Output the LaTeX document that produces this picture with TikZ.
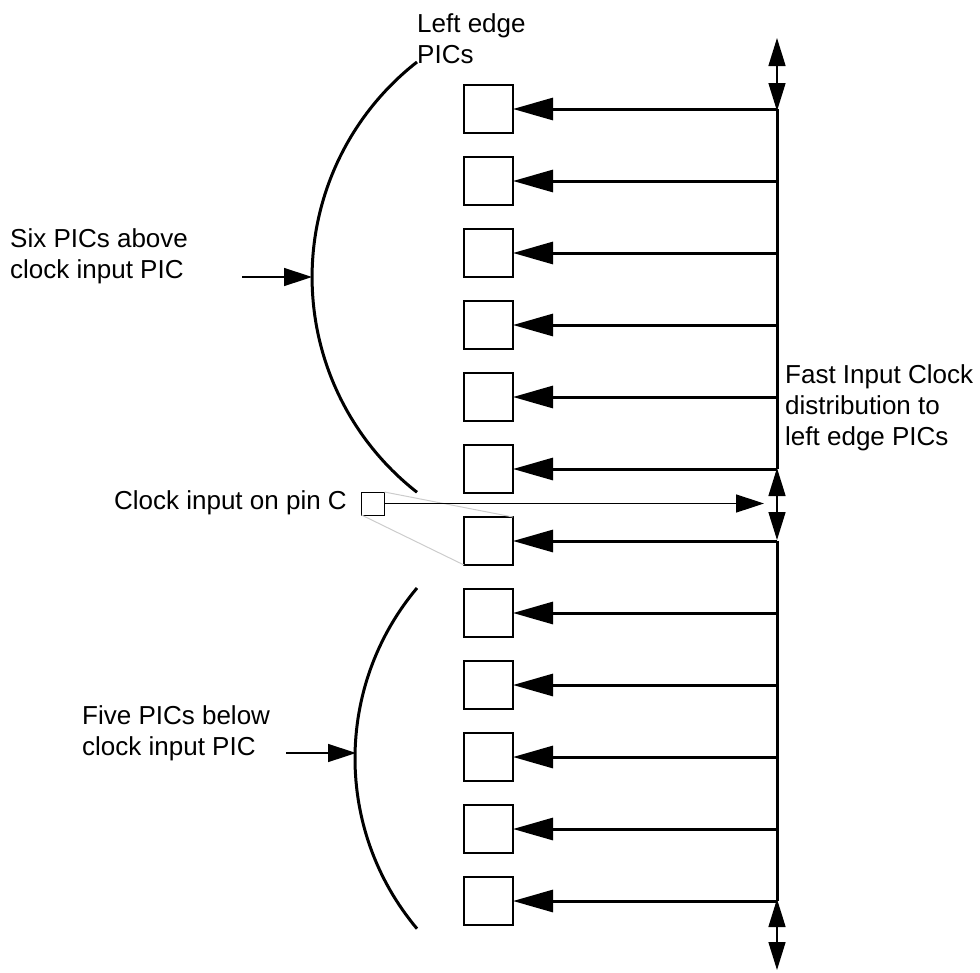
\documentclass[tikz,border=0pt]{standalone}
\usepackage{fontspec}
\setmainfont{Liberation Sans}
\usetikzlibrary{arrows.meta, positioning}

\begin{document}
\begin{tikzpicture}[x=1pt, y=-1pt, font=\fontsize{26}{31}\selectfont,
    picbox/.style={draw, rectangle, line width=1.5pt, minimum width=49pt, minimum height=48pt, inner sep=0pt, outer sep=0pt},
    txt/.style={align=left, inner sep=0pt},
    wire/.style={line width=3pt},
    feed/.style={line width=3pt, -{Triangle[length=40pt, width=22pt]}},
    pointer/.style={line width=1.5pt, -{Triangle[length=28pt, width=18pt]}},
    both/.style={line width=1.5pt, {Triangle[length=28pt, width=17pt]}-{Triangle[length=28pt, width=17pt]}},
    arcline/.style={line width=3pt}]
    \useasboundingbox (0,0) rectangle (980,972);

    \node[picbox] (pic1) at (488.5,109) {};
    \node[picbox] (pic2) at (488.5,181) {};
    \node[picbox] (pic3) at (488.5,253) {};
    \node[picbox] (pic4) at (488.5,325) {};
    \node[picbox] (pic5) at (488.5,397) {};
    \node[picbox] (pic6) at (488.5,469) {};
    \node[picbox] (pic7) at (488.5,541) {};
    \node[picbox] (pic8) at (488.5,613) {};
    \node[picbox] (pic9) at (488.5,685) {};
    \node[picbox] (pic10) at (488.5,757) {};
    \node[picbox] (pic11) at (488.5,829) {};
    \node[picbox] (pic12) at (488.5,901) {};

    \node[draw, rectangle, line width=1pt, minimum size=23pt, inner sep=0pt, outer sep=0pt] (clkin) at (373,503.5) {};

    \node[txt, anchor=base west] (edgetxt) at (417,63) {Left edge\\PICs};
    \node[txt, anchor=base west] (abovetxt) at (10,278) {Six PICs above\\clock input PIC};
    \node[txt, anchor=base west] (fasttxt) at (785,445) {Fast Input Clock\\distribution to\\left edge PICs};
    \node[txt, anchor=base east] (clktxt) at (347,509) {Clock input on pin C};
    \node[txt, anchor=base west] (belowtxt) at (82,755) {Five PICs below\\clock input PIC};

    \coordinate (bus) at (777,0);
    \coordinate (bustop) at (777,38);
    \coordinate (busbot) at (777,970);
    \coordinate (clkend) at (764,503.5);
    \coordinate (sixtail) at (242,277);
    \coordinate (sixtip) at (312,277);
    \coordinate (fivetail) at (286,753);
    \coordinate (fivetip) at (356,753);

    \draw[gray!40, line width=1pt] (clkin.north east) -- (pic7.north east);
    \draw[gray!40, line width=1pt] (clkin.south west) -- (pic7.south west);

    \draw[arcline] (417,62) arc[start angle=-128, end angle=-232, radius=273];
    \draw[arcline] (417,588) arc[start angle=-140, end angle=-220, radius=265];

    \draw[wire] (pic1 -| bus) -- (pic6 -| bus);
    \draw[wire] (pic7 -| bus) -- (pic12 -| bus);

    \draw[feed] (pic1 -| bus) -- (pic1.east);
    \draw[feed] (pic2 -| bus) -- (pic2.east);
    \draw[feed] (pic3 -| bus) -- (pic3.east);
    \draw[feed] (pic4 -| bus) -- (pic4.east);
    \draw[feed] (pic5 -| bus) -- (pic5.east);
    \draw[feed] (pic6 -| bus) -- (pic6.east);
    \draw[feed] (pic7 -| bus) -- (pic7.east);
    \draw[feed] (pic8 -| bus) -- (pic8.east);
    \draw[feed] (pic9 -| bus) -- (pic9.east);
    \draw[feed] (pic10 -| bus) -- (pic10.east);
    \draw[feed] (pic11 -| bus) -- (pic11.east);
    \draw[feed] (pic12 -| bus) -- (pic12.east);

    \draw[both] (bustop) -- ([yshift=-2pt]pic1 -| bus);
    \draw[both] ([yshift=1pt]pic6 -| bus) -- ([yshift=1pt]pic7 -| bus);
    \draw[both] ([yshift=2pt]pic12 -| bus) -- (busbot);

    \draw[pointer] (clkin.east) -- (clkend);
    \draw[pointer] (sixtail) -- (sixtip);
    \draw[pointer] (fivetail) -- (fivetip);
\end{tikzpicture}
\end{document}
